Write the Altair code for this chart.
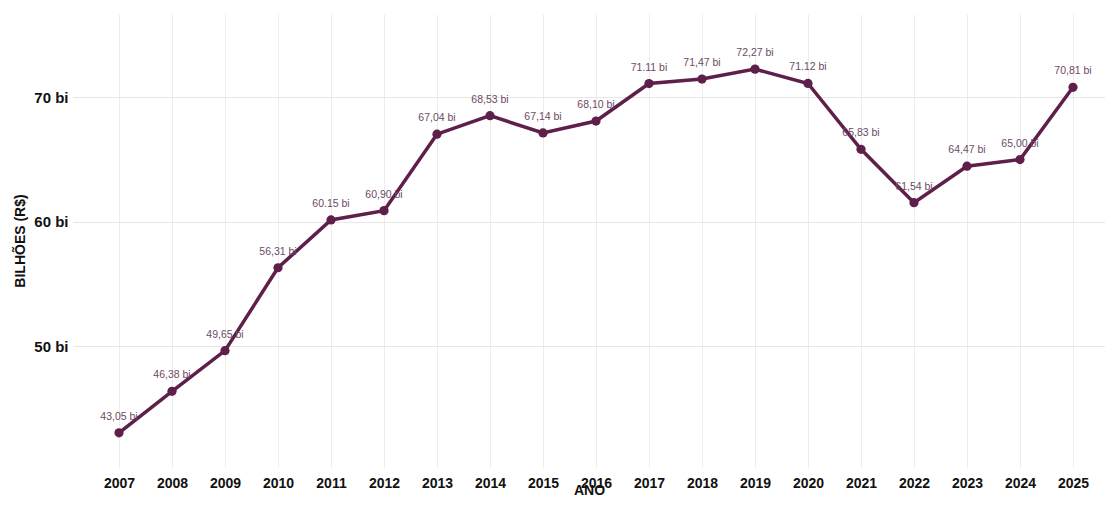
import altair as alt
import pandas as pd

years = [2007, 2008, 2009, 2010, 2011, 2012, 2013, 2014, 2015, 2016,
         2017, 2018, 2019, 2020, 2021, 2022, 2023, 2024, 2025]
values = [43.05, 46.38, 49.65, 56.31, 60.15, 60.90, 67.04, 68.53, 67.14, 68.10,
          71.11, 71.47, 72.27, 71.12, 65.83, 61.54, 64.47, 65.00, 70.81]
labels = ["43,05 bi", "46,38 bi", "49,65 bi", "56,31 bi", "60.15 bi", "60,90 bi",
          "67,04 bi", "68,53 bi", "67,14 bi", "68,10 bi", "71.11 bi", "71,47 bi",
          "72,27 bi", "71.12 bi", "65,83 bi", "61,54 bi", "64,47 bi", "65,00 bi",
          "70,81 bi"]
y_ticks = [50, 60, 70]

df = pd.DataFrame({"ano": years, "valor": values, "rotulo": labels})

FONT = "Liberation Sans, Arial, sans-serif"
LINE = "#5e1f4a"

x = alt.X("ano:Q", title="ANO",
          scale=alt.Scale(domain=[2006.132, 2025.604], nice=False, zero=False),
          axis=alt.Axis(values=years, format="d", labelFontSize=14, labelFontWeight="bold",
                        labelColor="#111111", labelFont=FONT, labelPadding=9,
                        labelOverlap=False, labelFlush=False,
                        titleFont=FONT, titleFontSize=14, titleFontWeight="bold",
                        titleColor="#111111", titlePadding=-7,
                        grid=True, gridColor="#ececec", ticks=False, domain=False))
y = alt.Y("valor:Q", title="BILHÕES (R$)",
          scale=alt.Scale(domain=[40.3, 76.7], nice=False, zero=False),
          axis=alt.Axis(values=y_ticks, labelExpr="datum.value + ' bi'",
                        labelFontSize=15, labelFontWeight="bold", labelColor="#111111",
                        labelFont=FONT, labelPadding=5,
                        titleFont=FONT, titleFontSize=14, titleFontWeight="bold",
                        titleColor="#111111", titlePadding=6,
                        grid=True, gridColor="#e6e6e6", ticks=False, domain=False))

base = alt.Chart(df).encode(x=x, y=y)

line = base.mark_line(color=LINE, strokeWidth=3.5)
pts = base.mark_circle(color=LINE, size=85, opacity=1)
txt = base.mark_text(dy=-16, fontSize=10.5, font=FONT, color="#6d4a65").encode(text="rotulo:N")

chart = (line + pts + txt).properties(
    width=1032, height=453,
    autosize=alt.AutoSizeParams(type="none"),
    padding={"left": 65, "top": 6, "right": 0, "bottom": 30},
    background="white",
).configure_view(stroke=None)

chart.save("out.html", embed_options={"renderer": "svg", "actions": False})
